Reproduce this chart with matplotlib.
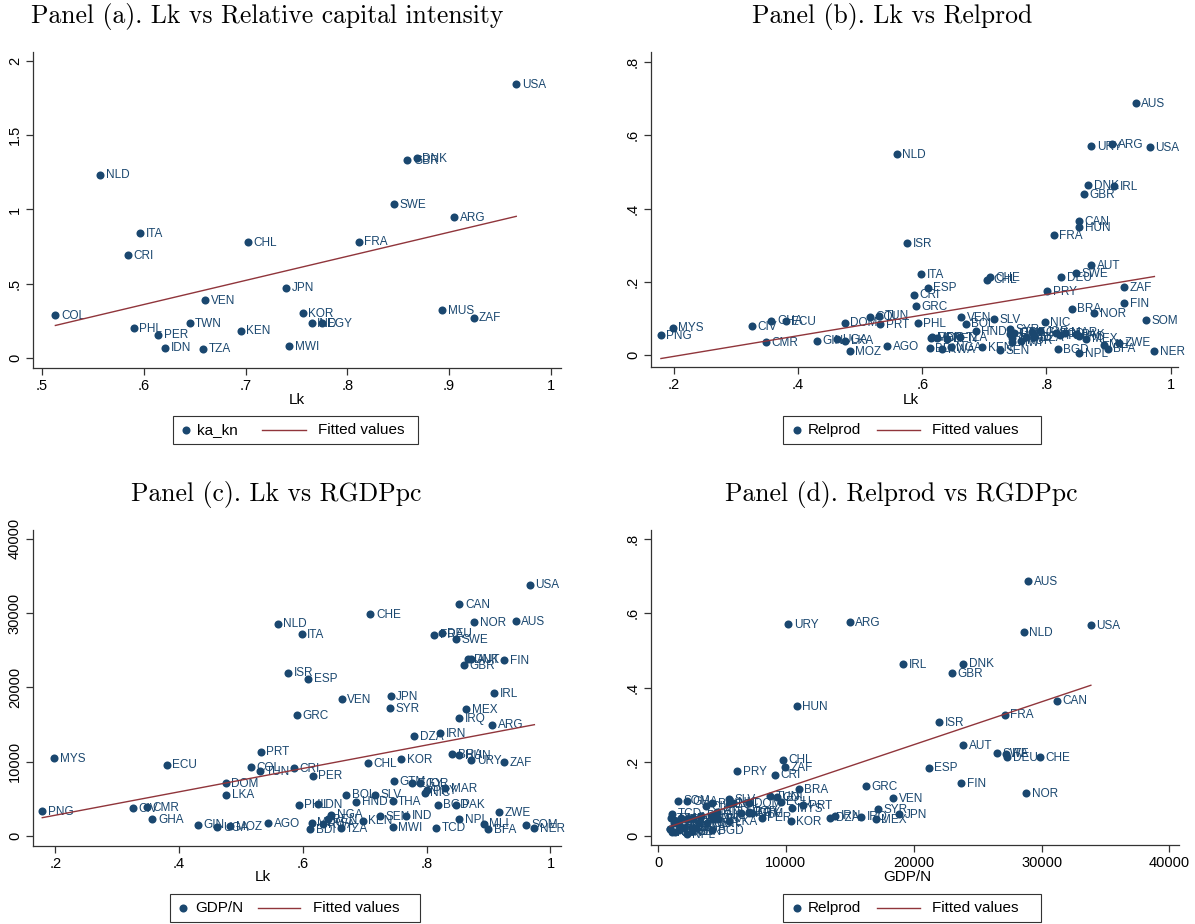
import numpy as np
import matplotlib.pyplot as plt
from matplotlib.patches import Rectangle

plt.rcParams['font.family'] = ['Liberation Sans', 'DejaVu Sans']

# panel (a): Lk vs relative capital intensity
a_cty = ['USA', 'NLD', 'DNK', 'GBR', 'SWE', 'ARG', 'ITA', 'CHL', 'FRA', 'CRI', 'JPN', 'VEN', 'COL',
         'KOR', 'IND', 'EGY', 'MUS', 'ZAF', 'TWN', 'PHL', 'PER', 'KEN', 'IDN', 'TZA', 'MWI']
a_lk = [0.966, 0.557, 0.868, 0.859, 0.846, 0.905, 0.596, 0.702, 0.811, 0.584, 0.740, 0.660, 0.513,
        0.756, 0.765, 0.775, 0.893, 0.924, 0.645, 0.590, 0.614, 0.695, 0.621, 0.658, 0.743]
a_kakn = [1.843, 1.235, 1.345, 1.332, 1.034, 0.948, 0.841, 0.778, 0.783, 0.691, 0.473, 0.390, 0.291,
          0.303, 0.235, 0.235, 0.321, 0.271, 0.235, 0.202, 0.157, 0.184, 0.070, 0.063, 0.078]

# panels (b)-(d)
cty = ['USA', 'CAN', 'CHE', 'NLD', 'NOR', 'AUS', 'ITA', 'FRA', 'DEU', 'SWE',
       'DNK', 'AUT', 'FIN', 'GBR', 'ISR', 'ESP', 'IRL', 'VEN', 'JPN', 'SYR',
       'MEX', 'GRC', 'IRQ', 'ARG', 'IRN', 'DZA', 'PRT', 'MYS', 'BRA', 'HUN',
       'URY', 'ZAF', 'KOR', 'CHL', 'ECU', 'COL', 'TUN', 'CRI', 'PER', 'DOM',
       'GTM', 'EGY', 'JOR', 'MAR', 'NIC', 'PRY', 'LKA', 'BOL', 'SLV', 'HND',
       'THA', 'PHL', 'IDN', 'BGD', 'PAK', 'CIV', 'CMR', 'PNG', 'ZWE', 'NGA',
       'GHA', 'SEN', 'IND', 'NPL', 'KEN', 'AGO', 'GIN', 'UGA', 'MOZ', 'MLI',
       'SOM', 'NER', 'BFA', 'TCD', 'MWI', 'BDI', 'TZA', 'MDG', 'RWA', 'BEN']
lk = [0.967, 0.853, 0.709, 0.559, 0.877, 0.944, 0.598, 0.812, 0.824, 0.847,
      0.867, 0.872, 0.925, 0.860, 0.576, 0.609, 0.909, 0.663, 0.742, 0.741,
      0.864, 0.590, 0.853, 0.906, 0.822, 0.780, 0.532, 0.198, 0.841, 0.853,
      0.872, 0.925, 0.759, 0.705, 0.380, 0.516, 0.531, 0.586, 0.616, 0.475,
      0.747, 0.777, 0.790, 0.830, 0.797, 0.801, 0.476, 0.670, 0.716, 0.686,
      0.745, 0.593, 0.624, 0.818, 0.848, 0.326, 0.348, 0.179, 0.917, 0.646,
      0.357, 0.725, 0.767, 0.853, 0.697, 0.544, 0.430, 0.462, 0.483, 0.892,
      0.960, 0.974, 0.899, 0.815, 0.745, 0.612, 0.661, 0.614, 0.632, 0.640]
relprod = [0.567, 0.365, 0.213, 0.549, 0.115, 0.687, 0.222, 0.327, 0.213, 0.223,
           0.464, 0.245, 0.143, 0.439, 0.306, 0.184, 0.462, 0.103, 0.059, 0.072,
           0.045, 0.134, 0.052, 0.575, 0.055, 0.050, 0.084, 0.075, 0.127, 0.350,
           0.571, 0.186, 0.040, 0.206, 0.093, 0.105, 0.108, 0.165, 0.050, 0.089,
           0.062, 0.063, 0.066, 0.062, 0.090, 0.175, 0.040, 0.086, 0.099, 0.066,
           0.047, 0.088, 0.047, 0.016, 0.058, 0.080, 0.035, 0.055, 0.034, 0.023,
           0.094, 0.014, 0.050, 0.006, 0.023, 0.025, 0.040, 0.044, 0.012, 0.029,
           0.095, 0.011, 0.018, 0.060, 0.035, 0.019, 0.049, 0.048, 0.016, 0.045]
gdpn = [33857, 31211, 29865, 28610, 28789, 28969, 27220, 27130, 27309, 26502,
        23857, 23857, 23722, 23004, 21973, 21166, 19193, 18386, 18834, 17175,
        17040, 16278, 15874, 14978, 13857, 13453, 11345, 10448, 10987, 10852,
        10179, 9955, 10359, 9776, 9596, 9283, 8744, 9148, 8117, 7085,
        7354, 7130, 7130, 6457, 5850, 6200, 5561, 5561, 5561, 4619,
        4709, 4215, 4305, 4215, 4215, 3722, 3857, 3363, 3229, 2870,
        2242, 2646, 2735, 2242, 2063, 1704, 1525, 1211, 1345, 1659,
        1525, 1076, 942, 1121, 1211, 942, 1031, 1794, 1614, 2242]

lk_ticks = [0.2, 0.4, 0.6, 0.8, 1.0]
lk_labels = ['.2', '.4', '.6', '.8', '1']
rp_ticks = [0, 0.2, 0.4, 0.6, 0.8]
rp_labels = ['0', '.2', '.4', '.6', '.8']
gdp_ticks = [0, 10000, 20000, 30000, 40000]
gdp_labels = ['0', '10000', '20000', '30000', '40000']

navy = '#1a476f'
maroon = '#90353b'
dark = '#333333'

W, H = 1195, 924
fig = plt.figure(figsize=(W / 100, H / 100), dpi=100)
ov = fig.add_axes([0, 0, 1, 1])
ov.set_xlim(0, W)
ov.set_ylim(H, 0)
ov.axis('off')


def make_axes(l, t, r, b, xlim, ylim, xt, xl, yt, yl):
    ax = fig.add_axes([l / W, 1 - b / H, (r - l) / W, (b - t) / H])
    ax.patch.set_visible(False)
    ax.set_xlim(xlim)
    ax.set_ylim(ylim)
    ax.set_xticks(xt, xl)
    ax.set_yticks(yt, yl, rotation=90, va='center')
    for s in ['top', 'right']:
        ax.spines[s].set_visible(False)
    for s in ['left', 'bottom']:
        ax.spines[s].set_color(dark)
        ax.spines[s].set_linewidth(0.9)
    ax.tick_params(direction='out', length=5, width=0.9, color=dark, labelsize=10.5, pad=3)
    return ax


def scatter_fit(ax, x, y, names):
    x = np.asarray(x, float)
    y = np.asarray(y, float)
    ax.plot(x, y, 'o', ms=5.8, mew=0, color=navy, zorder=3)
    for n, xi, yi in zip(names, x, y):
        ax.annotate(n, (xi, yi), xytext=(4, -0.5), textcoords='offset points', va='center',
                    ha='left', fontsize=8.5, color=navy, zorder=4, annotation_clip=False)
    # linear fit, drawn over the range of x like Stata's lfit
    b1, b0 = np.polyfit(x, y, 1)
    xs = np.array([x.min(), x.max()])
    ax.plot(xs, b0 + b1 * xs, color=maroon, lw=1.0, zorder=5)


def legend(x0, x1, yc, mx, t1x, lab1, lx0, lx1, t2x):
    ov.add_patch(Rectangle((x0, yc - 14), x1 - x0, 28, fill=False, ec=dark, lw=0.8))
    ov.plot([mx], [yc], 'o', ms=5.8, mew=0, color=navy)
    ov.text(t1x, yc, lab1, va='center', ha='left', fontsize=11)
    ov.plot([lx0, lx1], [yc, yc], color=maroon, lw=1.0)
    ov.text(t2x, yc, 'Fitted values', va='center', ha='left', fontsize=11)


# titles
tfont = dict(fontsize=18.5, family='cmr10', ha='center', va='center')
ov.text(267, 17, 'Panel (a). Lk vs Relative capital intensity', **tfont)
ov.text(892, 17, 'Panel (b). Lk vs Relprod', **tfont)
ov.text(276, 494, 'Panel (c). Lk vs RGDPpc', **tfont)
ov.text(901, 494, 'Panel (d). Relprod vs RGDPpc', **tfont)

# panel (a)
ax = make_axes(33, 52, 561, 368, (0.491, 1.010), (-0.067, 2.06),
               [0.5, 0.6, 0.7, 0.8, 0.9, 1.0], ['.5', '.6', '.7', '.8', '.9', '1'],
               [0, 0.5, 1, 1.5, 2], ['0', '.5', '1', '1.5', '2'])
scatter_fit(ax, a_lk, a_kakn, a_cty)
ov.text(297, 400, 'Lk', ha='center', va='center', fontsize=11)
legend(173, 418, 430, 186, 197, 'ka_kn', 262, 306, 318)

# panel (b)
ax = make_axes(651, 52, 1178, 367, (0.163, 1.012), (-0.032, 0.827),
               lk_ticks, lk_labels, rp_ticks, rp_labels)
scatter_fit(ax, lk, relprod, cty)
ov.text(911, 400, 'Lk', ha='center', va='center', fontsize=11)
legend(783, 1041, 430, 797, 808, 'Relprod', 877, 920, 932)

# panel (c)
ax = make_axes(33, 530, 561, 846, (0.164, 1.017), (-1346, 41200),
               lk_ticks, lk_labels, gdp_ticks, gdp_labels)
scatter_fit(ax, lk, gdpn, cty)
ov.text(263, 877, 'Lk', ha='center', va='center', fontsize=11)
legend(170, 420, 908, 183, 195, 'GDP/N', 258, 300, 313)

# panel (d)
ax = make_axes(651, 530, 1179, 845, (-556, 40752), (-0.024, 0.824),
               gdp_ticks, gdp_labels, rp_ticks, rp_labels)
scatter_fit(ax, gdpn, relprod, cty)
ov.text(907, 877, 'GDP/N', ha='center', va='center', fontsize=11)
legend(783, 1041, 908, 797, 808, 'Relprod', 877, 920, 932)

fig.savefig('out.png', dpi=100)
